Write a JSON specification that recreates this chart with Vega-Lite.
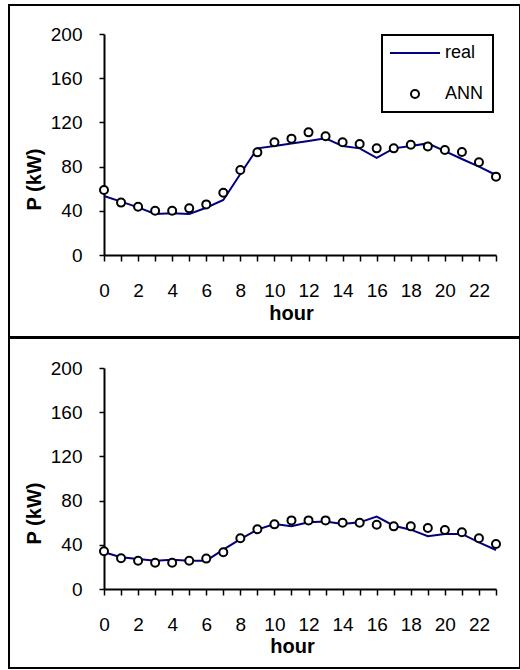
{
  "$schema": "https://vega.github.io/schema/vega-lite/v6.json",
  "padding": {"left": 7, "top": 4, "right": 0, "bottom": 0},
  "spacing": -4,
  "datasets": {
    "top": [
      {"hour": 0, "real": 53.4, "ANN": 58.8},
      {"hour": 1, "real": 48.3, "ANN": 47.4},
      {"hour": 2, "real": 43.1, "ANN": 43.7},
      {"hour": 3, "real": 37.1, "ANN": 40.1},
      {"hour": 4, "real": 37.7, "ANN": 40.1},
      {"hour": 5, "real": 37.1, "ANN": 42.2},
      {"hour": 6, "real": 42.8, "ANN": 45.8},
      {"hour": 7, "real": 49.8, "ANN": 56.4},
      {"hour": 8, "real": 73.3, "ANN": 76.9},
      {"hour": 9, "real": 96.5, "ANN": 92.9},
      {"hour": 10, "real": 98.6, "ANN": 102},
      {"hour": 11, "real": 101, "ANN": 105.3},
      {"hour": 12, "real": 103.2, "ANN": 111},
      {"hour": 13, "real": 105.6, "ANN": 107.4},
      {"hour": 14, "real": 98.6, "ANN": 102},
      {"hour": 15, "real": 96.5, "ANN": 100.4},
      {"hour": 16, "real": 88, "ANN": 96.5},
      {"hour": 17, "real": 96.5, "ANN": 96.5},
      {"hour": 18, "real": 98.6, "ANN": 99.8},
      {"hour": 19, "real": 101, "ANN": 98.3},
      {"hour": 20, "real": 94, "ANN": 95},
      {"hour": 21, "real": 86.9, "ANN": 93.2},
      {"hour": 22, "real": 80, "ANN": 83.9},
      {"hour": 23, "real": 72.4, "ANN": 70.9}
    ],
    "bottom": [
      {"hour": 0, "real": 33.2, "ANN": 34.1},
      {"hour": 1, "real": 28.7, "ANN": 27.8},
      {"hour": 2, "real": 27.1, "ANN": 25.6},
      {"hour": 3, "real": 25.6, "ANN": 23.8},
      {"hour": 4, "real": 26.5, "ANN": 23.8},
      {"hour": 5, "real": 25.6, "ANN": 25.6},
      {"hour": 6, "real": 25.6, "ANN": 27.5},
      {"hour": 7, "real": 35.6, "ANN": 33.2},
      {"hour": 8, "real": 45.2, "ANN": 45.9},
      {"hour": 9, "real": 53.7, "ANN": 54},
      {"hour": 10, "real": 58.8, "ANN": 58.5},
      {"hour": 11, "real": 56.7, "ANN": 62.1},
      {"hour": 12, "real": 60.3, "ANN": 62.1},
      {"hour": 13, "real": 61, "ANN": 62.1},
      {"hour": 14, "real": 58.8, "ANN": 60},
      {"hour": 15, "real": 60.3, "ANN": 60},
      {"hour": 16, "real": 65.5, "ANN": 58.2},
      {"hour": 17, "real": 57.3, "ANN": 56.7},
      {"hour": 18, "real": 53.7, "ANN": 56.7},
      {"hour": 19, "real": 47.7, "ANN": 55.2},
      {"hour": 20, "real": 49.8, "ANN": 53.4},
      {"hour": 21, "real": 49.8, "ANN": 51.3},
      {"hour": 22, "real": 42.2, "ANN": 45.9},
      {"hour": 23, "real": 35.3, "ANN": 40.7}
    ]
  },
  "vconcat": [
    {
      "width": 392,
      "height": 221,
      "data": {"name": "top"},
      "transform": [{"fold": ["real", "ANN"], "as": ["series", "P"]}],
      "encoding": {
        "x": {
          "field": "hour", "type": "quantitative",
          "scale": {"domain": [0, 23], "nice": false, "zero": false},
          "axis": {
            "title": "hour", "titleX": 187, "titleY": 48,
            "values": [0,1,2,3,4,5,6,7,8,9,10,11,12,13,14,15,16,17,18,19,20,21,22,23],
            "labelExpr": "datum.value % 2 === 0 ? datum.label : ''",
            "labelOverlap": false, "labelFlush": false,
            "tickSize": 6, "labelPadding": 20,
            "encode": {"ticks": {"update": {"y": {"value": -6}}}}
          }
        },
        "y": {
          "field": "P", "type": "quantitative",
          "scale": {"domain": [0, 200], "nice": false},
          "axis": {
            "title": "P (kW)", "titleX": -60, "titleY": 145,
            "values": [0, 40, 80, 120, 160, 200],
            "tickSize": 5, "labelPadding": 17,
            "encode": {"ticks": {"update": {"x": {"value": 5}}}}
          }
        }
      },
      "layer": [
        {
          "transform": [{"filter": "datum.hour === 0 && datum.series === 'real'"}],
          "mark": {"type": "rect", "filled": false, "color": "black", "strokeWidth": 2, "clip": false},
          "encoding": {
            "x": {"datum": -5.574, "type": "quantitative", "scale": {"domain": [0, 23], "nice": false, "zero": false}},
            "x2": {"datum": 24.41},
            "y": {"datum": 226.2, "type": "quantitative", "scale": {"domain": [0, 200], "nice": false}},
            "y2": {"datum": -75.1}
          }
        },
        {
          "transform": [{"filter": "datum.series === 'real'"}],
          "mark": {"type": "line", "strokeWidth": 2},
          "encoding": {
            "color": {
              "field": "series", "type": "nominal",
              "scale": {"domain": ["real", "ANN"], "range": ["#000080", "black"]},
              "legend": {
                "title": null, "orient": "none", "legendX": 278, "legendY": 1,
                "padding": 9, "strokeColor": "black", "fillColor": "white",
                "symbolSize": 64, "symbolStrokeWidth": 2, "symbolOffset": 15,
                "labelOffset": 21, "rowPadding": 23,
                "labelFont": "Liberation Sans", "labelFontSize": 18, "labelColor": "black",
                "encode": {"legend": {"update": {"strokeWidth": {"value": 2}}}}
              }
            }
          }
        },
        {
          "transform": [{"filter": "datum.series === 'ANN'"}],
          "mark": {"type": "point", "filled": false, "fill": "white", "size": 64, "strokeWidth": 2, "opacity": 1},
          "encoding": {
            "color": {
              "field": "series", "type": "nominal",
              "scale": {"domain": ["real", "ANN"], "range": ["#000080", "black"]},
              "legend": {
                "title": null, "orient": "none", "legendX": 278, "legendY": 1,
                "padding": 9, "strokeColor": "black", "fillColor": "white",
                "symbolSize": 64, "symbolStrokeWidth": 2, "symbolOffset": 15,
                "labelOffset": 21, "rowPadding": 23,
                "labelFont": "Liberation Sans", "labelFontSize": 18, "labelColor": "black",
                "encode": {"legend": {"update": {"strokeWidth": {"value": 2}}}}
              }
            },
            "shape": {
              "field": "series", "type": "nominal",
              "scale": {"domain": ["real", "ANN"], "range": ["M-6.25,0H6.25", "circle"]},
              "legend": {
                "title": null, "orient": "none", "legendX": 278, "legendY": 1,
                "padding": 9, "strokeColor": "black", "fillColor": "white",
                "symbolSize": 64, "symbolStrokeWidth": 2, "symbolOffset": 15,
                "labelOffset": 21, "rowPadding": 23,
                "labelFont": "Liberation Sans", "labelFontSize": 18, "labelColor": "black",
                "encode": {"legend": {"update": {"strokeWidth": {"value": 2}}}}
              }
            }
          }
        }
      ]
    },
    {
      "width": 392,
      "height": 221,
      "data": {"name": "bottom"},
      "transform": [{"fold": ["real", "ANN"], "as": ["series", "P"]}],
      "encoding": {
        "x": {
          "field": "hour", "type": "quantitative",
          "scale": {"domain": [0, 23], "nice": false, "zero": false},
          "axis": {
            "title": "hour", "titleX": 188, "titleY": 47,
            "values": [0,1,2,3,4,5,6,7,8,9,10,11,12,13,14,15,16,17,18,19,20,21,22,23],
            "labelExpr": "datum.value % 2 === 0 ? datum.label : ''",
            "labelOverlap": false, "labelFlush": false,
            "tickSize": 6, "labelPadding": 20,
            "encode": {"ticks": {"update": {"y": {"value": -6}}}}
          }
        },
        "y": {
          "field": "P", "type": "quantitative",
          "scale": {"domain": [0, 200], "nice": false},
          "axis": {
            "title": "P (kW)", "titleX": -60, "titleY": 145,
            "values": [0, 40, 80, 120, 160, 200],
            "tickSize": 5, "labelPadding": 17,
            "encode": {"ticks": {"update": {"x": {"value": 5}}}}
          }
        }
      },
      "layer": [
        {
          "transform": [{"filter": "datum.hour === 0 && datum.series === 'real'"}],
          "mark": {"type": "rect", "filled": false, "color": "black", "strokeWidth": 2, "clip": false},
          "encoding": {
            "x": {"datum": -5.574, "type": "quantitative", "scale": {"domain": [0, 23], "nice": false, "zero": false}},
            "x2": {"datum": 24.41},
            "y": {"datum": 228.1, "type": "quantitative", "scale": {"domain": [0, 200], "nice": false}},
            "y2": {"datum": -71.5}
          }
        },
        {
          "transform": [{"filter": "datum.series === 'real'"}],
          "mark": {"type": "line", "strokeWidth": 2, "color": "#000080"},
          "encoding": {}
        },
        {
          "transform": [{"filter": "datum.series === 'ANN'"}],
          "mark": {"type": "point", "filled": false, "fill": "white", "size": 64, "strokeWidth": 2, "color": "black", "opacity": 1},
          "encoding": {}
        }
      ]
    }
  ],
  "config": {
    "font": "Liberation Sans",
    "view": {"stroke": null},
    "axis": {
      "grid": false,
      "domainColor": "black", "domainWidth": 2,
      "tickColor": "black", "tickWidth": 1.5,
      "labelColor": "black", "labelFont": "Liberation Sans", "labelFontSize": 19,
      "titleColor": "black", "titleFont": "Liberation Sans", "titleFontSize": 20, "titleFontWeight": "bold"
    }
  }
}
